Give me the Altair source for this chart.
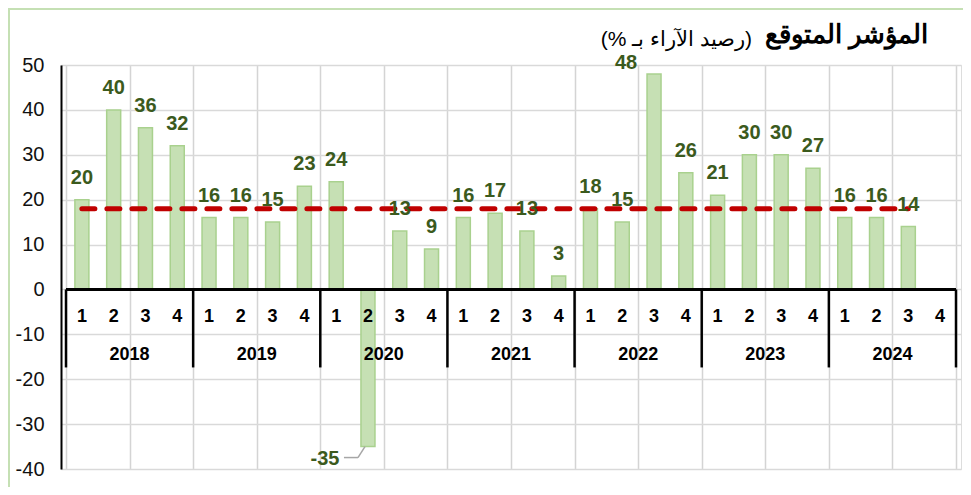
import altair as alt
import pandas as pd

# ---- data ----
years = ["2018", "2019", "2020", "2021", "2022", "2023", "2024"]
quarters = ["1", "2", "3", "4"]
values = [20, 40, 36, 32,
          16, 16, 15, 23,
          24, -35, 13, 9,
          16, 17, 13, 3,
          18, 15, 48, 26,
          21, 30, 30, 27,
          16, 16, 14, None]
avg_value = 18
y_ticks = [50, 40, 30, 20, 10, 0, -10, -20, -30, -40]
title_main = "المؤشر المتوقع"
title_sub = "\u200F(رصيد الآراء بـ %)\u200F"

rows = []
for i, v in enumerate(values):
    rows.append({"pos": i + 0.5, "year": years[i // 4], "quarter": quarters[i % 4],
                 "value": v, "label": "" if v is None else str(v)})
df = pd.DataFrame(rows)
year_df = pd.DataFrame({"pos": [i * 4 + 2 for i in range(len(years))], "year": years})
sep_df = pd.DataFrame({"pos": [i * 4 for i in range(len(years) + 1)]})
grid_vals = [k * 0.5 for k in range(len(values) * 2 + 1)]

W, H = 900, 404
n = len(values)
xscale = alt.Scale(domain=[0, n], nice=False, zero=False)
yscale = alt.Scale(domain=[-40, 50], nice=False)

GREEN_TXT = "#3b5a1d"
LABEL_FONT = "Liberation Sans"

base = alt.Chart(df)

x_enc = alt.X("pos:Q", scale=xscale,
              axis=alt.Axis(values=grid_vals, grid=True, labels=False, ticks=False,
                            domain=False, title=None,
                            gridColor={"condition": {"test": "datum.value % 1 === 0", "value": "#d4d4d4"},
                                       "value": "#ececec"},
                            gridWidth=1.5))
y_enc = alt.Y("value:Q", scale=yscale,
              axis=alt.Axis(values=y_ticks, grid=True, gridColor="#d9d9d9", gridWidth=1.5,
                            ticks=False, domain=True, domainColor="black", domainWidth=2,
                            labelFont=LABEL_FONT, labelFontSize=20, labelColor="#111111",
                            labelExpr="'' + datum.value",
                            labelPadding=17, title=None))

bars = base.mark_bar(width=14, fill="#c6e0b4", stroke="#a9d18e", strokeWidth=1.5).encode(
    x=x_enc, y=y_enc
).transform_filter("datum.value != null")

avg_line = base.mark_line(color="#c00000", strokeWidth=5, strokeDash=[13, 12], strokeCap="round").encode(
    x=alt.X("pos:Q", scale=xscale), y=alt.datum(avg_value, scale=yscale)
).transform_filter("datum.value != null")

labels_base = base.transform_filter("datum.value != null").transform_joinaggregate(
    vmax="max(value)"
)

pos_labels = labels_base.mark_text(font=LABEL_FONT, fontSize=20, fontWeight="bold", color=GREEN_TXT,
                                   dy=-22, baseline="middle").encode(
    x=alt.X("pos:Q", scale=xscale), y=alt.Y("value:Q", scale=yscale), text="label:N"
).transform_filter("datum.value >= 0 && datum.value < datum.vmax")

max_label = labels_base.mark_text(font=LABEL_FONT, fontSize=20, fontWeight="bold", color=GREEN_TXT,
                                  dx=-28, dy=-11, baseline="middle").encode(
    x=alt.X("pos:Q", scale=xscale), y=alt.Y("value:Q", scale=yscale), text="label:N"
).transform_filter("datum.value == datum.vmax")

neg_labels = labels_base.mark_text(font=LABEL_FONT, fontSize=20, fontWeight="bold", color=GREEN_TXT,
                                   dx=-43, dy=12, baseline="middle").encode(
    x=alt.X("pos:Q", scale=xscale), y=alt.Y("value:Q", scale=yscale), text="label:N"
).transform_filter("datum.value < 0")

leader_h = base.mark_rule(color="#a6a6a6", strokeWidth=1.5, xOffset=-24, x2Offset=-10, yOffset=11, y2Offset=11).encode(
    x=alt.X("pos:Q", scale=xscale), x2="pos:Q",
    y=alt.Y("value:Q", scale=yscale), y2="value:Q"
).transform_filter("datum.value != null && datum.value < 0")

leader_d = base.mark_rule(color="#a6a6a6", strokeWidth=1.5, xOffset=-10, x2Offset=-3, yOffset=11, y2Offset=0).encode(
    x=alt.X("pos:Q", scale=xscale), x2="pos:Q",
    y=alt.Y("value:Q", scale=yscale), y2="value:Q"
).transform_filter("datum.value != null && datum.value < 0")

zero_line = alt.Chart(sep_df).mark_rule(color="black", strokeWidth=2.5).encode(
    x=alt.datum(0, scale=xscale), x2=alt.datum(n), y=alt.datum(0, scale=yscale)
)

separators = alt.Chart(sep_df).mark_rule(color="black", strokeWidth=2.5, y2Offset=78).encode(
    x=alt.X("pos:Q", scale=xscale), y=alt.datum(0, scale=yscale), y2=alt.datum(0)
)

q_labels = base.mark_text(font=LABEL_FONT, fontSize=18, fontWeight="bold", color="black",
                          dy=28, baseline="middle").encode(
    x=alt.X("pos:Q", scale=xscale), y=alt.datum(0, scale=yscale), text="quarter:N"
)

y_labels = alt.Chart(year_df).mark_text(font=LABEL_FONT, fontSize=18, fontWeight="bold", color="black",
                                        dy=66, baseline="middle").encode(
    x=alt.X("pos:Q", scale=xscale), y=alt.datum(0, scale=yscale), text="year:N"
)

frame = alt.Chart(sep_df).mark_rect(fill="transparent", stroke="#c5e0b4", strokeWidth=2).encode(
    x=alt.value(-52), x2=alt.value(W + 40), y=alt.value(-56), y2=alt.value(H + 60)
).transform_filter("datum.pos == 0")

t_main = alt.Chart(sep_df).mark_text(font="Arial", fontSize=26, fontWeight="bold", color="black",
                                     align="right", baseline="alphabetic").encode(
    x=alt.value(W - 33), y=alt.value(-22), text=alt.value(title_main)
).transform_filter("datum.pos == 0")

t_sub = alt.Chart(sep_df).mark_text(font="Arial", fontSize=21, color="black",
                                    align="right", baseline="alphabetic").encode(
    x=alt.value(W - 209), y=alt.value(-19), text=alt.value(title_sub)
).transform_filter("datum.pos == 0")

chart = alt.layer(
    bars, avg_line, zero_line, separators, q_labels, y_labels,
    pos_labels, max_label, neg_labels, leader_h, leader_d, frame, t_main, t_sub
).properties(
    width=W, height=H,
    autosize=alt.AutoSizeParams(type="none"),
    padding={"left": 53, "top": 57, "right": 2, "bottom": 18},
).configure_view(stroke=None).configure(background="white")

chart.save("out.html", embed_options={"renderer": "svg", "actions": False})
